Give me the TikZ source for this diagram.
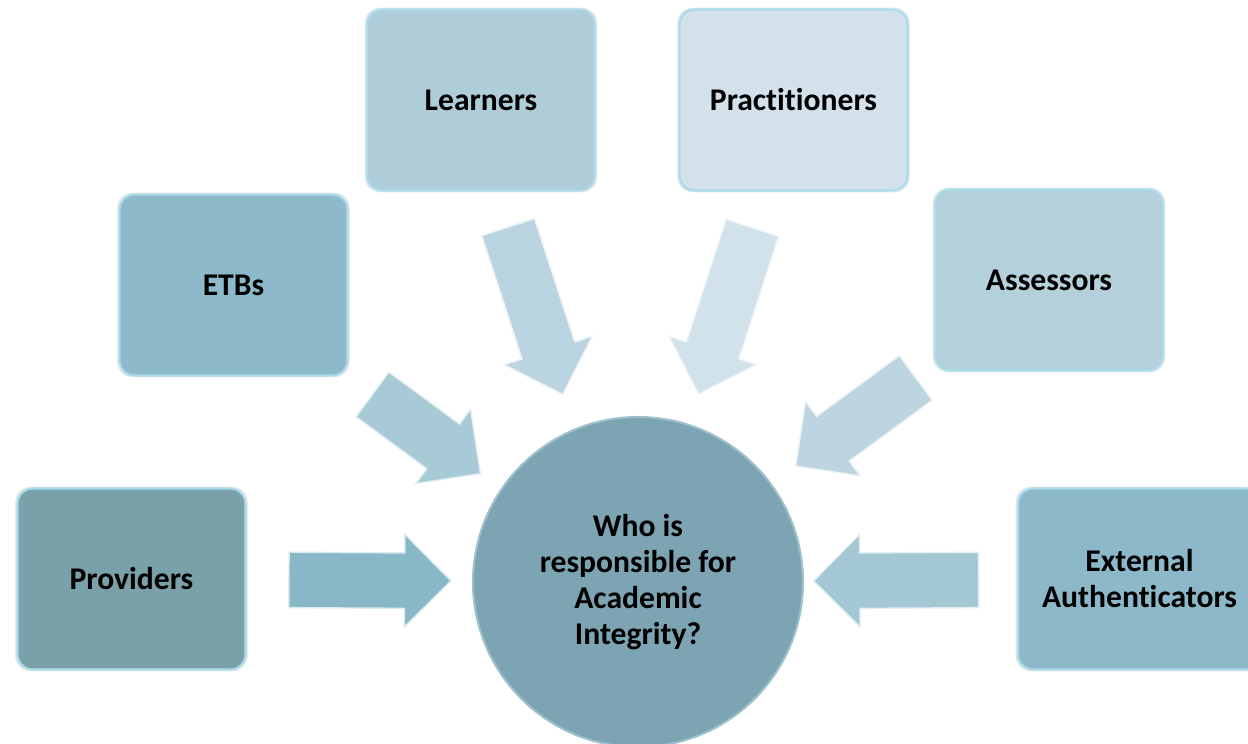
\documentclass[tikz,border=0pt]{standalone}
\usepackage{fontspec}
\setmainfont{Carlito}[Ligatures=NoCommon]
\usetikzlibrary{shapes,shadows}
\usepackage{xcolor}

\definecolor{provfill}{HTML}{7AA0AA}
\definecolor{etbfill}{HTML}{8DB9CA}
\definecolor{learnfill}{HTML}{AFCDD8}
\definecolor{pracfill}{HTML}{D3E1EA}
\definecolor{assfill}{HTML}{B4D0DB}
\definecolor{extfill}{HTML}{8DB8C9}
\definecolor{whofill}{HTML}{7CA4B3}
\definecolor{rim}{HTML}{A9DCEB}
\definecolor{provarrow}{HTML}{88B8C8}
\definecolor{etbarrow}{HTML}{A7CAD6}
\definecolor{learnarrow}{HTML}{BBD4E1}
\definecolor{pracarrow}{HTML}{D2E2EB}
\definecolor{assarrow}{HTML}{BDD5E1}
\definecolor{extarrow}{HTML}{A3C7D3}

\begin{document}
\begin{tikzpicture}[x=0.02cm, y=-0.02cm,
    box/.style={rectangle, draw=rim, line width=1.2pt, rounded corners=0.3cm, minimum width=4.56cm, minimum height=3.62cm, align=center, font=\fontsize{18}{20.5}\selectfont\bfseries, drop shadow={opacity=0.18, shadow xshift=0pt, shadow yshift=0pt, shadow scale=1.02}},
    who/.style={circle, draw=rim!70!gray, line width=1.2pt, fill=whofill, minimum size=6.6cm, align=center, font=\fontsize{18}{20.5}\selectfont\bfseries},
    blockarrow/.style={single arrow, single arrow head extend=0.37cm, inner xsep=0pt, inner ysep=0.54cm, draw=white!70!#1, fill=#1, line width=0.8pt, sloped, allow upside down, anchor=tail}
]
    \useasboundingbox (0,0) rectangle (1248,744);

    % centre question
    \node[who] (who) at (638,582) {Who is\\responsible for\\Academic\\Integrity?};

    % groups round it
    \node[box, fill=learnfill] (learn) at (481,100) {Learners};
    \node[box, fill=pracfill] (prac) at (793.5,100) {Practitioners};
    \node[box, fill=etbfill] (etb) at (233.5,285) {ETBs};
    \node[box, fill=assfill] (ass) at (1049,280) {Assessors};
    \node[box, fill=provfill] (prov) at (131.5,579) {Providers};
    \node[box, fill=extfill, minimum width=4.86cm] (ext) at (1139.5,579) {External\\Authenticators};

    % block arrows into the circle
    \path (prov) -- (who) node[blockarrow=provarrow, minimum height=3.24cm, pos=0.185] (arProv) {};
    \path (etb) -- (who) node[blockarrow=etbarrow, minimum height=2.68cm, pos=0.173, yshift=-0.12cm] (arEtb) {};
    \path (learn) -- (who) node[blockarrow=learnarrow, minimum height=3.52cm, pos=0.132, yshift=-0.27cm] (arLearn) {};
    \path (prac) -- (who) node[blockarrow=pracarrow, minimum height=3.5cm, pos=0.153] (arPrac) {};
    \path (ass) -- (who) node[blockarrow=assarrow, minimum height=2.98cm, pos=0.109] (arAss) {};
    \path (ext) -- (who) node[blockarrow=extarrow, minimum height=3.3cm, pos=0.177] (arExt) {};
\end{tikzpicture}
\end{document}
